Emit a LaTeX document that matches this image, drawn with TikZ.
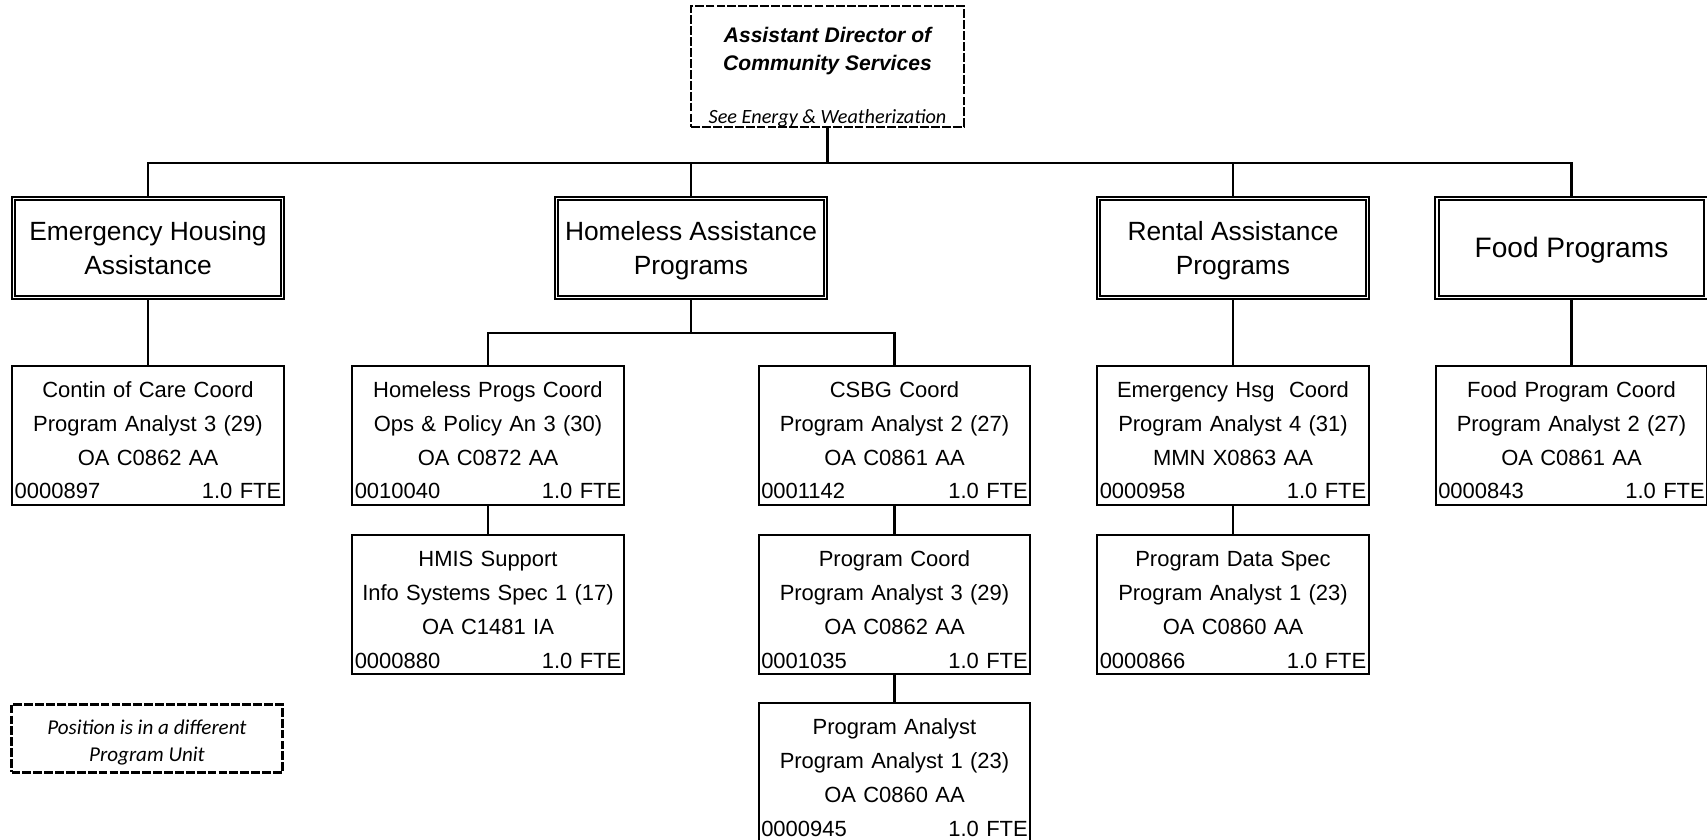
\documentclass[tikz,border=0pt]{standalone}
\usepackage{fontspec}
\setmainfont{Liberation Sans}
\newfontfamily\NoteFont{Carlito}
\usetikzlibrary{positioning}
\newcommand{\PositionText}[4]{\rule{0pt}{14.5pt}#1\\#2\\#3\\#4\hfill 1.0 FTE}
\newcommand{\UnitText}[2]{\rule{0pt}{15pt}#1\\#2\rule[-4pt]{0pt}{4pt}}

\begin{document}
\begin{tikzpicture}[
  line width=1.2pt,
  director/.style={draw,dash pattern=on 5pt off 1.2pt,line width=1.3pt,minimum width=5.45cm,minimum height=2.42cm},
  program/.style={draw,double,double distance=1.1pt,line width=0.9pt,minimum width=5.38cm,minimum height=1.98cm,align=center,
    font=\fontsize{15}{19.3}\selectfont},
  position/.style={draw,line width=1.2pt,text width=5.33cm,inner xsep=1.5pt,minimum height=2.7cm,align=center,font=\fontsize{12.5}{19.3}\selectfont},
  note/.style={font=\NoteFont\itshape\fontsize{11.5}{15.4}\selectfont,align=center},
]
  \useasboundingbox (0,0) rectangle (34.14,16.8);

  % director
  \node[director] (director) at (16.55,15.47) {};
  \node[font=\bfseries\itshape\fontsize{12}{15.9}\selectfont,align=center] (directortitle) at (16.55,15.77)
    {Assistant Director of\\Community Services};
  \node[note] (directornote) at (16.55,14.43) {See Energy \& Weatherization};

  % program units
  \node[program] (eha) at (2.96,11.84) {\UnitText{Emergency Housing}{Assistance}};
  \node[program] (hap) at (13.82,11.84) {\UnitText{Homeless Assistance}{Programs}};
  \node[program] (rap) at (24.66,11.84) {\UnitText{Rental Assistance}{Programs}};
  \node[program,font=\fontsize{16}{19.3}\selectfont] (fp) at (31.43,11.84) {\rule{0pt}{14pt}Food Programs};

  % positions
  \node[position] (contin) at (2.96,8.09)
    {\PositionText{Contin of Care Coord}{Program Analyst 3 (29)}{OA C0862 AA}{0000897}};
  \node[position] (hpc) at (9.76,8.09)
    {\PositionText{Homeless Progs Coord}{Ops \& Policy An 3 (30)}{OA C0872 AA}{0010040}};
  \node[position] (csbg) at (17.89,8.09)
    {\PositionText{CSBG Coord}{Program Analyst 2 (27)}{OA C0861 AA}{0001142}};
  \node[position] (ehc) at (24.66,8.09)
    {\PositionText{Emergency Hsg\ \ Coord}{Program Analyst 4 (31)}{MMN X0863 AA}{0000958}};
  \node[position] (fpc) at (31.43,8.09)
    {\PositionText{Food Program Coord}{Program Analyst 2 (27)}{OA C0861 AA}{0000843}};

  \node[position] (hmis) at (9.76,4.71)
    {\PositionText{HMIS Support}{Info Systems Spec 1 (17)}{OA C1481 IA}{0000880}};
  \node[position] (progcoord) at (17.89,4.71)
    {\PositionText{Program Coord}{Program Analyst 3 (29)}{OA C0862 AA}{0001035}};
  \node[position] (pds) at (24.66,4.71)
    {\PositionText{Program Data Spec}{Program Analyst 1 (23)}{OA C0860 AA}{0000866}};
  \node[position] (analyst) at (17.89,1.35)
    {\PositionText{Program Analyst}{Program Analyst 1 (23)}{OA C0860 AA}{0000945}};

  % legend
  \node[director,minimum width=5.42cm,minimum height=1.36cm] (legend) at (2.94,2.03) {};
  \node[note,font=\NoteFont\itshape\fontsize{12}{15.4}\selectfont] (legendtext) at (2.94,1.95)
    {Position is in a different\\Program Unit};

  % lines
  \coordinate (bus) at (16.55,13.54);
  \coordinate (hapbus) at (13.82,10.14);
  \draw (director.south) -- (bus);
  \draw (bus) -| (eha.north);
  \draw (bus) -| (hap.north);
  \draw (bus) -| (rap.north);
  \draw (bus) -| (fp.north);
  \draw (eha.south) -- (contin.north);
  \draw (hap.south) -- (hapbus);
  \draw (hapbus) -| (hpc.north);
  \draw (hapbus) -| (csbg.north);
  \draw (rap.south) -- (ehc.north);
  \draw (fp.south) -- (fpc.north);
  \draw (hpc.south) -- (hmis.north);
  \draw (csbg.south) -- (progcoord.north);
  \draw (progcoord.south) -- (analyst.north);
  \draw (ehc.south) -- (pds.north);
\end{tikzpicture}
\end{document}
